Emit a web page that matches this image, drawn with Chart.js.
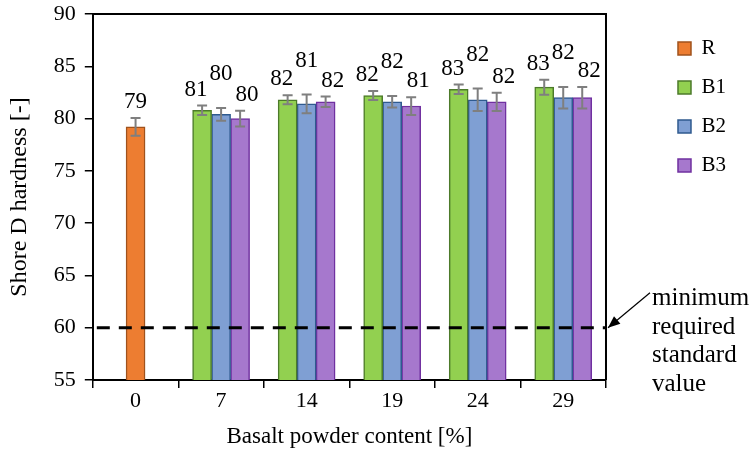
<!DOCTYPE html>
<html>
<head>
<meta charset="utf-8">
<script src="https://cdn.jsdelivr.net/npm/chart.js@4/dist/chart.umd.min.js"></script>
<style>
  html, body { margin: 0; padding: 0; background: #ffffff; }
  #wrap { width: 754px; height: 457px; position: relative; }
</style>
</head>
<body>
<div id="wrap"><canvas id="c" width="754" height="457"></canvas></div>
<script>
// ---- data ----
const categories = ['0', '7', '14', '19', '24', '29'];
const seriesNames = ['R', 'B1', 'B2', 'B3'];
const rValues  = [79.2, null, null, null, null, null];
const b1Values = [null, 80.8, 81.8, 82.2, 82.8, 83.0];
const b2Values = [null, 80.4, 81.4, 81.6, 81.8, 82.0];
const b3Values = [null, 80.0, 81.6, 81.2, 81.6, 82.0];
const rErrors  = [0.85, null, null, null, null, null];
const b1Errors = [null, 0.45, 0.43, 0.43, 0.45, 0.72];
const b2Errors = [null, 0.60, 0.90, 0.55, 1.07, 1.03];
const b3Errors = [null, 0.75, 0.50, 0.85, 0.88, 1.03];
const yMin = 55, yMax = 90, yStep = 5;
const standardValue = 60;
const annotationLines = ['minimum', 'required', 'standard', 'value'];
const xTitle = 'Basalt powder content [%]';
const yTitle = 'Shore D hardness [-]';

// ---- styles ----
const FONT = '"Liberation Serif", "Times New Roman", serif';
const fills   = ['#ED7D31', '#92D050', '#7F9FD3', '#A678CD'];
const borders = ['#A0521C', '#4C7A2A', '#2F5A8F', '#7030A0'];
const errorSets = [rErrors, b1Errors, b2Errors, b3Errors];
const valueSets = [rValues, b1Values, b2Values, b3Values];

const errorBarPlugin = {
  id: 'errorBars',
  afterDatasetsDraw(chart) {
    const ctx = chart.ctx, y = chart.scales.y;
    ctx.save();
    ctx.strokeStyle = '#7F7F7F';
    ctx.lineWidth = 2;
    chart.data.datasets.forEach((ds, di) => {
      const meta = chart.getDatasetMeta(di);
      const errs = errorSets[di];
      ds.data.forEach((v, i) => {
        if (v === null || errs[i] === null) return;
        const bar = meta.data[i];
        const yt = y.getPixelForValue(v + errs[i]);
        const yb = y.getPixelForValue(v - errs[i]);
        const x = bar.x, cap = 5;
        ctx.beginPath();
        ctx.moveTo(x, yt); ctx.lineTo(x, yb);
        ctx.moveTo(x - cap, yt); ctx.lineTo(x + cap, yt);
        ctx.moveTo(x - cap, yb); ctx.lineTo(x + cap, yb);
        ctx.stroke();
      });
    });
    ctx.restore();
  }
};

const valueLabelPlugin = {
  id: 'valueLabels',
  afterDatasetsDraw(chart) {
    const ctx = chart.ctx, y = chart.scales.y;
    ctx.save();
    ctx.fillStyle = '#000000';
    ctx.font = '23px ' + FONT;
    ctx.textAlign = 'center';
    ctx.textBaseline = 'alphabetic';
    const dx = [0, -6, 0, 7];
    const lift = [10, 10, 28, 10];
    chart.data.datasets.forEach((ds, di) => {
      const meta = chart.getDatasetMeta(di);
      const errs = errorSets[di];
      ds.data.forEach((v, i) => {
        if (v === null) return;
        const bar = meta.data[i];
        const top = y.getPixelForValue(v + (errs[i] || 0));
        ctx.fillText(v.toFixed(0), bar.x + dx[di], top - lift[di]);
      });
    });
    ctx.restore();
  }
};

const frameAndStandardPlugin = {
  id: 'frameStandard',
  afterDatasetsDraw(chart) {
    const ctx = chart.ctx, a = chart.chartArea, y = chart.scales.y;
    const ys = y.getPixelForValue(standardValue);
    ctx.save();
    // dashed standard line
    ctx.strokeStyle = '#000000';
    ctx.lineWidth = 3;
    ctx.setLineDash([13, 9]);
    ctx.lineDashOffset = 18;
    ctx.beginPath();
    ctx.moveTo(a.left, ys); ctx.lineTo(a.right, ys);
    ctx.stroke();
    ctx.setLineDash([]);
    // top and right frame
    ctx.lineWidth = 2;
    ctx.beginPath();
    ctx.moveTo(a.left, a.top); ctx.lineTo(a.right, a.top); ctx.lineTo(a.right, a.bottom);
    ctx.stroke();
    // arrow
    const tipX = a.right + 2, tipY = ys;
    const sx = a.right + 44, sy = ys - 35;
    ctx.lineWidth = 1.2;
    ctx.beginPath();
    ctx.moveTo(sx, sy); ctx.lineTo(tipX, tipY);
    ctx.stroke();
    const ang = Math.atan2(tipY - sy, tipX - sx);
    const L = 12, W = 5;
    ctx.beginPath();
    ctx.moveTo(tipX, tipY);
    ctx.lineTo(tipX - L * Math.cos(ang) + W * Math.sin(ang), tipY - L * Math.sin(ang) - W * Math.cos(ang));
    ctx.lineTo(tipX - L * Math.cos(ang) - W * Math.sin(ang), tipY - L * Math.sin(ang) + W * Math.cos(ang));
    ctx.closePath();
    ctx.fillStyle = '#000000';
    ctx.fill();
    // annotation text
    ctx.font = '25px ' + FONT;
    ctx.textAlign = 'left';
    ctx.textBaseline = 'middle';
    annotationLines.forEach((t, k) => {
      ctx.fillText(t, a.right + 46, ys - 29 + k * 28.5);
    });
    ctx.restore();
  }
};

const legendShiftPlugin = {
  id: 'legendShift',
  beforeDraw(chart) {
    const lg = chart.legend, a = chart.chartArea;
    if (!lg) return;
    const w = lg.width, h = lg.height;
    lg.left = a.right + 54;
    lg.right = lg.left + w;
    lg.top = a.top + 6;
    lg.bottom = lg.top + h;
  }
};

const datasets = valueSets.map((vals, k) => ({
  label: seriesNames[k],
  data: vals,
  backgroundColor: fills[k],
  borderColor: borders[k],
  borderWidth: 1.5,
  barThickness: 19,
  skipNull: true
}));

new Chart(document.getElementById('c'), {
  type: 'bar',
  data: { labels: categories, datasets },
  options: {
    responsive: false,
    animation: false,
    devicePixelRatio: 1,
    layout: { padding: { left: 5, right: 72, top: 14, bottom: 6 } },
    plugins: {
      legend: {
        position: 'right',
        align: 'start',
        labels: {
          font: { family: FONT, size: 21 },
          color: '#000000',
          boxWidth: 13,
          boxHeight: 13,
          padding: 18
        }
      },
      tooltip: { enabled: false }
    },
    scales: {
      x: {
        grid: { display: true, drawOnChartArea: false, drawTicks: true, tickLength: 8, color: '#000000', lineWidth: 1.5, offset: true },
        border: { display: true, color: '#000000', width: 2 },
        ticks: { font: { family: FONT, size: 22 }, color: '#000000', padding: 0 },
        title: { display: true, text: xTitle, font: { family: FONT, size: 23 }, color: '#000000', padding: { top: 9, bottom: 0 } }
      },
      y: {
        min: yMin, max: yMax,
        afterFit(scale) { scale.paddingTop = 0; scale.paddingBottom = 0; },
        grid: { display: true, drawOnChartArea: false, drawTicks: true, tickLength: 8, color: '#000000', lineWidth: 1.5 },
        border: { display: true, color: '#000000', width: 2 },
        ticks: { stepSize: yStep, font: { family: FONT, size: 22 }, color: '#000000', padding: 9 },
        title: { display: true, text: yTitle, font: { family: FONT, size: 24 }, color: '#000000', padding: { top: 0, bottom: 11 } }
      }
    }
  },
  plugins: [errorBarPlugin, valueLabelPlugin, frameAndStandardPlugin, legendShiftPlugin]
});
</script>
</body>
</html>
